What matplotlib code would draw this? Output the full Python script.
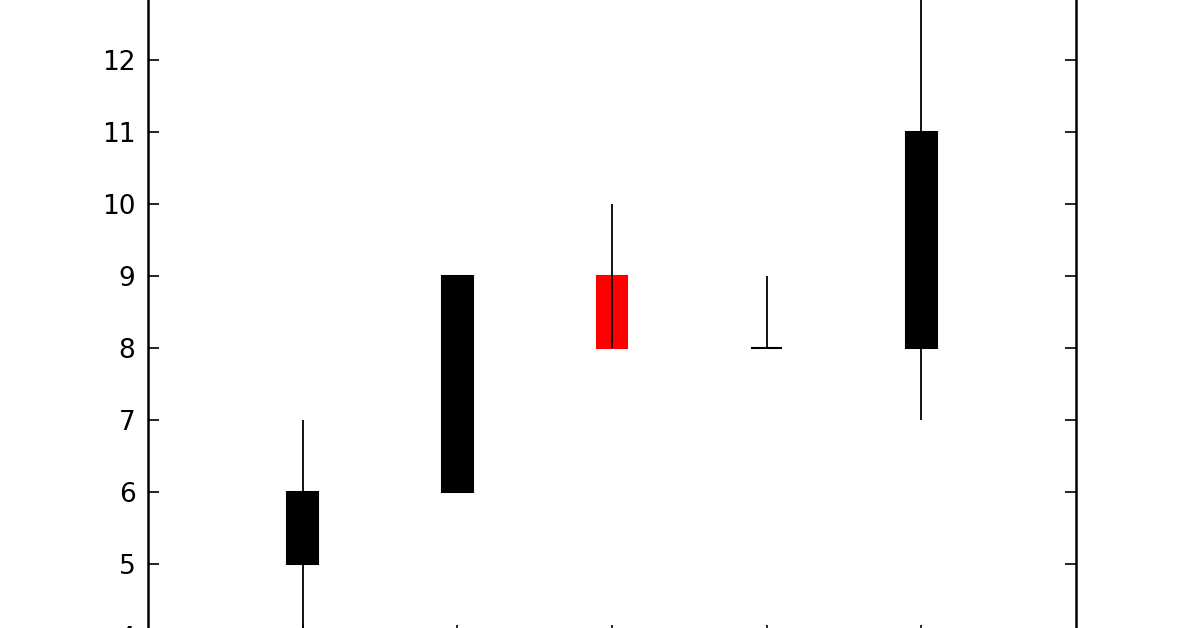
import matplotlib
matplotlib.use("Agg")
import matplotlib.pyplot as plt
import numpy as np

# candle data: open, close, high, low
days = [1, 2, 3, 4, 5]
opens = [5, 6, 9, 8, 8]
closes = [6, 9, 8, 8, 11]
highs = [7, 9, 10, 9, 13.5]
lows = [3.5, 6, 8, 8, 7]
yticks = [4, 5, 6, 7, 8, 9, 10, 11, 12, 13]

fig = plt.figure(figsize=(11.96, 6.28), dpi=100)
# axes runs a bit past the top and bottom of the picture (cropped look)
ax = fig.add_axes([148 / 1196, -8 / 628, 928 / 1196, 648 / 628])

o = np.array(opens, dtype=float)
c = np.array(closes, dtype=float)
colors = ['k' if cc >= oo else 'r' for oo, cc in zip(o, c)]

ax.bar(days, np.abs(c - o), bottom=np.minimum(o, c), width=0.2,
       color=colors, edgecolor=colors, linewidth=1.5, zorder=2)
ax.vlines(days, lows, highs, color='k', linewidth=1.3, zorder=3)

ax.set_xlim(0, 6)
ax.set_ylim(4, 13)
ax.set_xticks(days)
ax.set_xticklabels([])
ax.set_yticks(yticks)
ax.set_yticklabels([str(t) for t in yticks], fontsize=19)
ax.tick_params(direction='in', length=8, width=1.2, top=True, right=True, pad=9)
for s in ax.spines.values():
    s.set_linewidth(1.8)

fig.savefig("out.png", dpi=100)
